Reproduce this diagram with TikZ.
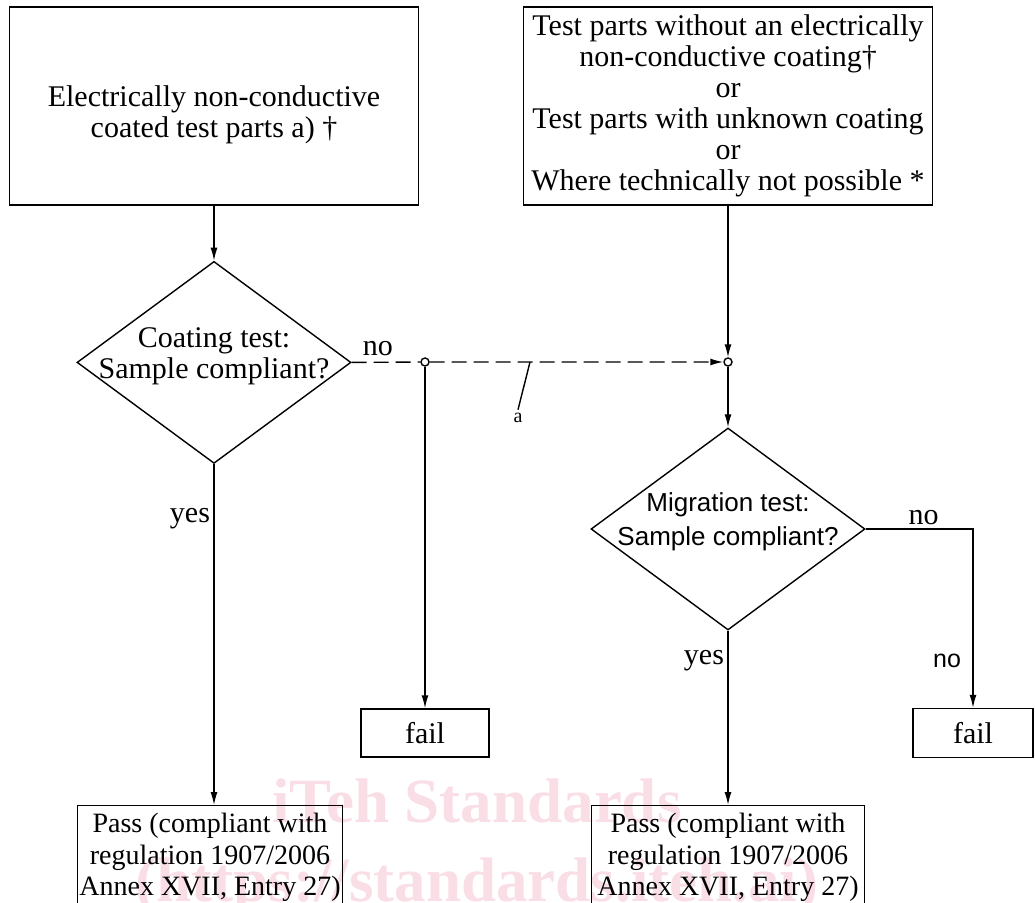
\documentclass[tikz,border=0pt]{standalone}
\usepackage{fontspec}
\setmainfont{Liberation Serif}
\newfontfamily\sansfnt{Liberation Sans}
\usetikzlibrary{positioning,shapes.geometric,arrows.meta}
\definecolor{wmpink}{RGB}{250,222,230}
\newcommand{\liftstrut}{\rule[-19pt]{0pt}{19pt}}
\newcommand{\dropstrut}{\rule{0pt}{39pt}}
\tikzset{
	box/.style={draw, line width=1.4pt, align=center, inner sep=1pt, font=\fontsize{30}{31}\selectfont},
	decision/.style={draw, diamond, aspect=1.356, line width=1.4pt, align=center, inner sep=-11pt,
		minimum width=274pt, minimum height=202pt, font=\fontsize{30}{31}\selectfont},
	junction/.style={draw, circle, fill=white, line width=1.4pt, inner sep=0pt, minimum size=8pt},
	flow/.style={-{Latex[length=13pt,width=7pt]}, line width=1.4pt},
	lbl/.style={font=\fontsize{30}{31}\selectfont},
	wm/.style={text=wmpink, anchor=base, font=\bfseries\fontsize{63}{70}\selectfont}
}
\begin{document}
\begin{tikzpicture}[x=1pt,y=-1pt]
		\clip (0,0) rectangle (1035,902);
		\node[wm] (wmtitle) at (477,822) {iTeh Standards};
		\node[wm] (wmurl) at (477,901) {(https://standards.iteh.ai)};
		
		\node[box, minimum width=409pt, minimum height=198pt] (coated) at (214,106)
			{\dropstrut Electrically non-conductive\\coated test parts a) †};
		\node[box, minimum width=409pt, minimum height=198pt] (uncoated) at (728,106)
			{Test parts without an electrically\\non-conductive coating†\\or\\Test parts with unknown coating\\or\\Where technically not possible *};
		\node[decision, below=55pt of coated] (coating) {Coating test:\\Sample compliant?\liftstrut};
		\node[junction] (jfail) at (425,362) {};
		\node[junction] (jmig) at (728,362) {};
		\node[decision, font=\sansfnt\fontsize{26}{34}\selectfont] (migration) at (728,529) {Migration test:\\Sample compliant?\liftstrut};
		\node[box, minimum width=128pt, minimum height=48pt] (fail1) at (425,733) {fail};
		\node[box, minimum width=120pt, minimum height=49pt] (fail2) at (973,733) {fail};
		\node[box, anchor=north, minimum width=265pt, minimum height=104pt, font=\fontsize{28}{31.5}\selectfont] (pass1) at (210,805)
			{Pass (compliant with\\regulation 1907/2006\\Annex XVII, Entry 27)};
		\node[box, anchor=north, minimum width=273pt, minimum height=104pt, font=\fontsize{28}{31.5}\selectfont] (pass2) at (728,805)
			{Pass (compliant with\\regulation 1907/2006\\Annex XVII, Entry 27)};
		\coordinate (tick) at (530,362);
		\node[font=\fontsize{20}{22}\selectfont] (note) at (518,418) {a};
		
		\draw[flow] (coated) -- (coating);
		\draw[flow, dash pattern=on 15pt off 7pt] (coating.east) -- node[lbl, above, pos=0.38, yshift=2pt] {no} (jfail) -- (jmig);
		\draw[line width=1.4pt] (tick) -- (note.north);
		\draw[flow] (jfail) -- (fail1);
		\draw[flow] (uncoated) -- (jmig);
		\draw[flow] (jmig) -- (migration);
		\draw[flow] (coating.south) -- node[lbl, left, pos=0.16] {yes} (coating.south |- pass1.north);
		\draw[flow] (migration.south) -- node[lbl, left, pos=0.17] {yes} (migration.south |- pass2.north);
		\draw[flow] (migration.east) -| node[lbl, above, pos=0.27] {no}
			node[left, pos=0.87, xshift=-8pt, font=\sansfnt\fontsize{25}{28}\selectfont] {no} (fail2.north);
\end{tikzpicture}
\end{document}
